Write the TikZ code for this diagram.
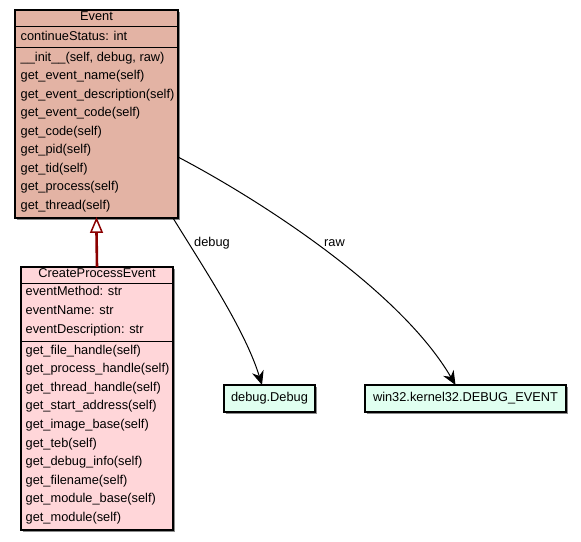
\documentclass[tikz,border=0pt]{standalone}
\usepackage{fontspec}
\setmainfont{Liberation Sans}
\usetikzlibrary{arrows.meta}
\definecolor{evfill}{RGB}{227,179,164}
\definecolor{cpfill}{RGB}{255,214,217}
\definecolor{mint}{RGB}{224,255,240}
\definecolor{inh}{RGB}{139,0,0}
\begin{document}
\begin{tikzpicture}[x=1pt,y=-1pt,
  every node/.style={font=\fontsize{12.8}{15}\selectfont},
  cls/.style={draw=black,line width=1.2pt,inner sep=0pt,outer sep=0pt},
  shadowbox/.style={draw=black!45,line width=0.8pt},
  member/.style={anchor=west,inner sep=0pt,text height=9pt,text depth=3pt},
  ctitle/.style={anchor=center,inner sep=0pt,text height=9pt,text depth=3pt},
  sep/.style={draw=black,line width=1pt},
  septhick/.style={draw=black,line width=1.6pt},
  assoc/.style={draw=black,line width=1pt,-{Stealth[length=14pt,width=12pt,inset=4.5pt,fill=black]}},
  lbl/.style={inner sep=0pt,text height=9pt,text depth=3pt}
]
\useasboundingbox (0,0) rectangle (581,541);
% shadows
\draw[shadowbox] (16.5,219.5) -- (179.5,219.5) -- (179.5,11.5);
\draw[shadowbox] (22.5,531.5) -- (174.5,531.5) -- (174.5,268.5);
\draw[shadowbox] (225.5,413.5) -- (316.5,413.5) -- (316.5,386.5);
\draw[shadowbox] (366.5,413.5) -- (567.5,413.5) -- (567.5,386.5);
% Event
\node[cls,fill=evfill,minimum width=163pt,minimum height=208pt] (ev) at (96.5,114) {};
\draw[sep] (ev.west |- 0,26.5) -- (ev.east |- 0,26.5);
\draw[septhick] (ev.west |- 0,47.5) -- (ev.east |- 0,47.5);
\node[ctitle] (evt) at (96.5,17.8) {Event};
\node[member] (ev1) at (20.5,37.5) {continueStatus: int};
\node[member] (ev2) at (20.5,58) {\_\_init\_\_(self, debug, raw)};
\node[member] (ev3) at (20.5,76.5) {get\_event\_name(self)};
\node[member] (ev4) at (20.5,95) {get\_event\_description(self)};
\node[member] (ev5) at (20.5,113.5) {get\_event\_code(self)};
\node[member] (ev6) at (20.5,132) {get\_code(self)};
\node[member] (ev7) at (20.5,150.5) {get\_pid(self)};
\node[member] (ev8) at (20.5,169) {get\_tid(self)};
\node[member] (ev9) at (20.5,187.5) {get\_process(self)};
\node[member] (ev10) at (20.5,206) {get\_thread(self)};
% CreateProcessEvent
\node[cls,fill=cpfill,minimum width=152pt,minimum height=263pt] (cp) at (97,398.5) {};
\draw[sep] (cp.west |- 0,283) -- (cp.east |- 0,283);
\draw[sep] (cp.west |- 0,341) -- (cp.east |- 0,341);
\node[ctitle] (cpt) at (97,274.8) {CreateProcessEvent};
\node[member] (cp1) at (25.5,292) {eventMethod: str};
\node[member] (cp2) at (25.5,311) {eventName: str};
\node[member] (cp3) at (25.5,330) {eventDescription: str};
\node[member] (cp4) at (25.5,351) {get\_file\_handle(self)};
\node[member] (cp5) at (25.5,369.6) {get\_process\_handle(self)};
\node[member] (cp6) at (25.5,388.2) {get\_thread\_handle(self)};
\node[member] (cp7) at (25.5,406.8) {get\_start\_address(self)};
\node[member] (cp8) at (25.5,425.4) {get\_image\_base(self)};
\node[member] (cp9) at (25.5,444) {get\_teb(self)};
\node[member] (cp10) at (25.5,462.6) {get\_debug\_info(self)};
\node[member] (cp11) at (25.5,481.2) {get\_filename(self)};
\node[member] (cp12) at (25.5,499.8) {get\_module\_base(self)};
\node[member] (cp13) at (25.5,518.4) {get\_module(self)};
% external
\node[cls,fill=mint,minimum width=91pt,minimum height=27pt] (dbg) at (269.5,398.5) {debug.Debug};
\node[cls,fill=mint,minimum width=201pt,minimum height=27pt] (w32) at (465.5,398.5) {win32.kernel32.DEBUG\_EVENT};
% inheritance
\draw[inh,line width=2.6pt] (cp.north) -- ([yshift=-14pt]ev.south);
\draw[inh,line width=1.5pt,fill=white,line join=miter] ([yshift=-1pt]ev.south) -- ([xshift=-5.5pt,yshift=-14pt]ev.south) -- ([xshift=5.5pt,yshift=-14pt]ev.south) -- cycle;
% associations
\draw[assoc] ([xshift=-5pt]ev.south east) .. controls (205,270) and (245,330) .. ([xshift=-7.5pt]dbg.north);
\draw[assoc] ([yshift=-43pt]ev.east) .. controls (260,200) and (400,290) .. ([xshift=-10pt]w32.north);
\node[lbl] (l1) at (212,243) {debug};
\node[lbl] (l2) at (334.5,243) {raw};
\end{tikzpicture}
\end{document}
